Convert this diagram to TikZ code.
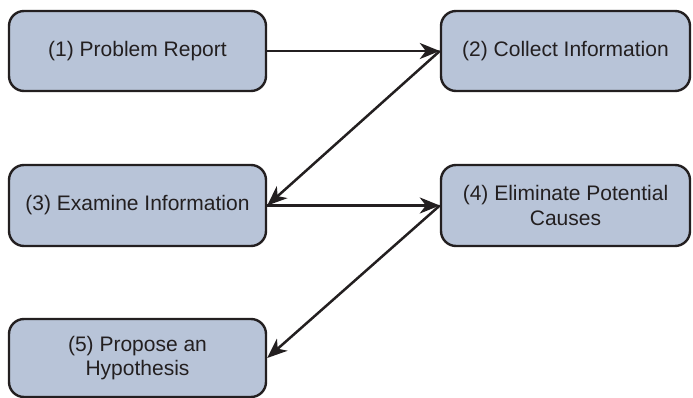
\documentclass[tikz,border=0pt]{standalone}
\usepackage{fontspec}
\setmainfont{Liberation Sans}
\usetikzlibrary{arrows.meta}
\definecolor{boxfill}{HTML}{B8C4D8}
\definecolor{ink}{HTML}{231F20}
\tikzset{
  stepbox/.style={draw=ink, fill=boxfill, line width=2.4pt, rounded corners=15pt,
    minimum width=257pt, minimum height=80pt, inner sep=0pt, align=center,
    text=ink, font=\fontsize{21}{24.5}\selectfont, anchor=center},
  conn/.style={draw=ink, line width=2.5pt, -{Stealth[length=20pt,width=16pt,inset=6pt]}}
}
\begin{document}
\begin{tikzpicture}[x=1pt,y=1pt]
\useasboundingbox (0,0) rectangle (693,-398);
\node[stepbox] (b1) at (137.5,-51) {(1) Problem Report};
\node[stepbox, minimum width=249pt] (b2) at (565.5,-51) {(2) Collect Information};
\node[stepbox, minimum height=81pt] (b3) at (137.5,-205.5) {(3) Examine Information};
\node[stepbox, minimum width=249pt, minimum height=81pt] (b4) at (565.5,-205.5) {(4) Eliminate Potential\\Causes};
\node[stepbox, minimum height=78pt] (b5) at (137.5,-358) {(5) Propose an\\Hypothesis};
\draw[conn] (b1.east) -- (b2.west);
\draw[conn] (b2.west) -- (b3.east);
\draw[conn] (b3.east) -- (b4.west);
\draw[conn] (b4.west) -- (b5.east);
\end{tikzpicture}
\end{document}
